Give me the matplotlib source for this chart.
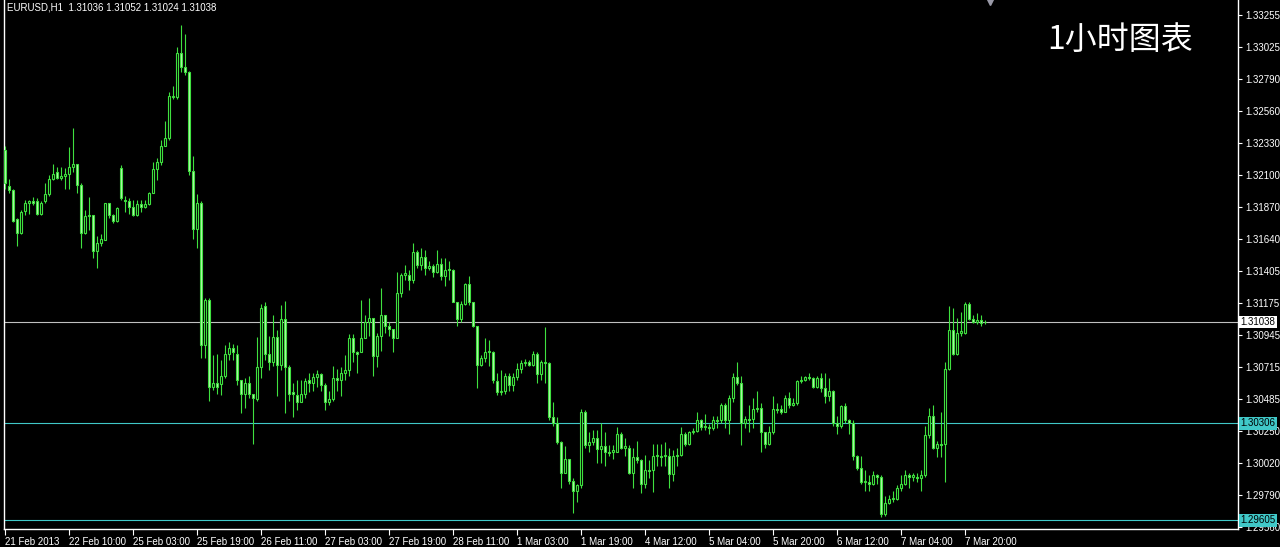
import matplotlib
matplotlib.use("Agg")
import matplotlib.pyplot as plt
import numpy as np

# EURUSD H1 candles, 21 Feb 2013 18:00 -> 7 Mar 2013
opens = [1.3228, 1.3202, 1.3199, 1.3178, 1.3168, 1.3184, 1.3190, 1.3191, 1.3191, 1.3182,
         1.3191, 1.3196, 1.3207, 1.3212, 1.3208, 1.3209, 1.3211, 1.3216, 1.3218, 1.3203,
         1.3168, 1.3180, 1.3181, 1.3155, 1.3161, 1.3163, 1.3190, 1.3181, 1.3177, 1.3215,
         1.3192, 1.3191, 1.3187, 1.3181, 1.3189, 1.3187, 1.3189, 1.3197, 1.3214, 1.3219,
         1.3231, 1.3237, 1.3266, 1.3266, 1.3298, 1.3288, 1.3284, 1.3213, 1.3171, 1.3190,
         1.3087, 1.3120, 1.3057, 1.3060, 1.3059, 1.3065, 1.3081, 1.3085, 1.3081, 1.3062,
         1.3052, 1.3060, 1.3052, 1.3048, 1.3071, 1.3115, 1.3081, 1.3075, 1.3093, 1.3073,
         1.3106, 1.3071, 1.3053, 1.3051, 1.3046, 1.3052, 1.3062, 1.3060, 1.3064, 1.3066,
         1.3058, 1.3046, 1.3048, 1.3063, 1.3062, 1.3067, 1.3069, 1.3092, 1.3082, 1.3082,
         1.3092, 1.3104, 1.3107, 1.3079, 1.3094, 1.3109, 1.3101, 1.3099, 1.3092, 1.3125,
         1.3138, 1.3138, 1.3134, 1.3154, 1.3145, 1.3151, 1.3143, 1.3144, 1.3140, 1.3146,
         1.3137, 1.3141, 1.3141, 1.3118, 1.3106, 1.3117, 1.3131, 1.3118, 1.3101, 1.3073,
         1.3078, 1.3082, 1.3082, 1.3061, 1.3053, 1.3054, 1.3065, 1.3058, 1.3064, 1.3070,
         1.3074, 1.3075, 1.3073, 1.3081, 1.3066, 1.3075, 1.3074, 1.3035, 1.3031, 1.3017,
         1.2995, 1.3005, 1.2989, 1.2982, 1.2986, 1.3039, 1.3015, 1.3017, 1.3020, 1.3012,
         1.3014, 1.3010, 1.3010, 1.3010, 1.3023, 1.3013, 1.3013, 1.2995, 1.3006, 1.3004,
         1.2987, 1.2997, 1.2997, 1.3007, 1.3007, 1.3007, 1.3007, 1.2994, 1.3007, 1.3008,
         1.3023, 1.3016, 1.3024, 1.3025, 1.3033, 1.3028, 1.3028, 1.3027, 1.3033, 1.3033,
         1.3044, 1.3033, 1.3049, 1.3064, 1.3060, 1.3031, 1.3034, 1.3034, 1.3041, 1.3042,
         1.3024, 1.3016, 1.3024, 1.3041, 1.3041, 1.3039, 1.3049, 1.3044, 1.3045, 1.3061,
         1.3062, 1.3064, 1.3063, 1.3057, 1.3063, 1.3056, 1.3050, 1.3054, 1.3031, 1.3029,
         1.3043, 1.3033, 1.3031, 1.3007, 1.2998, 1.2988, 1.2988, 1.2987, 1.2993, 1.2992,
         1.2965, 1.2973, 1.2976, 1.2976, 1.2984, 1.2987, 1.2993, 1.2992, 1.2992, 1.2991,
         1.2993, 1.3022, 1.3036, 1.3013, 1.3016, 1.3016, 1.3070, 1.3098, 1.3081, 1.3096,
         1.3096, 1.3117, 1.3106, 1.3104, 1.3105, 1.31036]

highs = [1.3231, 1.3207, 1.3200, 1.3179, 1.3185, 1.3192, 1.3192, 1.3194, 1.3193, 1.3191,
         1.3204, 1.3210, 1.3218, 1.3216, 1.3216, 1.3215, 1.3230, 1.3244, 1.3218, 1.3204,
         1.3185, 1.3194, 1.3181, 1.3166, 1.3167, 1.3190, 1.3190, 1.3182, 1.3187, 1.3217,
         1.3195, 1.3193, 1.3192, 1.3192, 1.3192, 1.3192, 1.3198, 1.3219, 1.3222, 1.3235,
         1.3249, 1.3270, 1.3274, 1.3302, 1.3318, 1.3312, 1.3285, 1.3224, 1.3196, 1.3191,
         1.3121, 1.3121, 1.3080, 1.3081, 1.3076, 1.3087, 1.3089, 1.3088, 1.3087, 1.3062,
         1.3063, 1.3065, 1.3052, 1.3093, 1.3117, 1.3118, 1.3094, 1.3109, 1.3098, 1.3116,
         1.3119, 1.3073, 1.3060, 1.3062, 1.3062, 1.3063, 1.3067, 1.3067, 1.3069, 1.3067,
         1.3060, 1.3054, 1.3072, 1.3070, 1.3071, 1.3080, 1.3095, 1.3095, 1.3083, 1.3120,
         1.3109, 1.3121, 1.3107, 1.3096, 1.3128, 1.3109, 1.3104, 1.3099, 1.3140, 1.3139,
         1.3145, 1.3141, 1.3161, 1.3156, 1.3157, 1.3156, 1.3148, 1.3146, 1.3156, 1.3150,
         1.3150, 1.3148, 1.3142, 1.3118, 1.3119, 1.3132, 1.3137, 1.3118, 1.3101, 1.3080,
         1.3092, 1.3091, 1.3083, 1.3067, 1.3069, 1.3067, 1.3067, 1.3067, 1.3074, 1.3076,
         1.3077, 1.3076, 1.3083, 1.3082, 1.3076, 1.3100, 1.3075, 1.3046, 1.3035, 1.3018,
         1.3014, 1.3005, 1.2991, 1.2987, 1.3041, 1.3040, 1.3024, 1.3026, 1.3026, 1.3031,
         1.3024, 1.3015, 1.3015, 1.3028, 1.3024, 1.3020, 1.3015, 1.3013, 1.3018, 1.3005,
         1.3008, 1.3004, 1.3016, 1.3016, 1.3016, 1.3017, 1.3013, 1.3011, 1.3013, 1.3028,
         1.3024, 1.3025, 1.3027, 1.3039, 1.3034, 1.3037, 1.3030, 1.3036, 1.3036, 1.3045,
         1.3045, 1.3051, 1.3067, 1.3075, 1.3065, 1.3036, 1.3044, 1.3049, 1.3054, 1.3045,
         1.3024, 1.3029, 1.3050, 1.3045, 1.3044, 1.3051, 1.3053, 1.3049, 1.3062, 1.3065,
         1.3065, 1.3067, 1.3064, 1.3065, 1.3067, 1.3067, 1.3063, 1.3055, 1.3036, 1.3044,
         1.3045, 1.3034, 1.3033, 1.3008, 1.3007, 1.2997, 1.2993, 1.2996, 1.2994, 1.2993,
         1.2978, 1.2979, 1.2982, 1.2986, 1.2993, 1.2997, 1.2995, 1.2995, 1.2995, 1.2997,
         1.3029, 1.3042, 1.3044, 1.3018, 1.3039, 1.3075, 1.3115, 1.3114, 1.3107, 1.3111,
         1.3118, 1.3118, 1.3109, 1.3110, 1.3109, 1.31052]

lows = [1.3200, 1.3197, 1.3176, 1.3159, 1.3167, 1.3181, 1.3182, 1.3188, 1.3181, 1.3181,
        1.3190, 1.3195, 1.3206, 1.3207, 1.3206, 1.3200, 1.3200, 1.3212, 1.3197, 1.3157,
        1.3167, 1.3170, 1.3150, 1.3143, 1.3159, 1.3163, 1.3179, 1.3175, 1.3176, 1.3192,
        1.3183, 1.3182, 1.3180, 1.3180, 1.3183, 1.3186, 1.3188, 1.3197, 1.3206, 1.3217,
        1.3233, 1.3235, 1.3265, 1.3265, 1.3284, 1.3282, 1.3210, 1.3164, 1.3157, 1.3078,
        1.3078, 1.3047, 1.3055, 1.3052, 1.3051, 1.3063, 1.3076, 1.3076, 1.3058, 1.3038,
        1.3042, 1.3049, 1.3016, 1.3047, 1.3063, 1.3076, 1.3069, 1.3072, 1.3050, 1.3069,
        1.3038, 1.3047, 1.3035, 1.3040, 1.3046, 1.3049, 1.3053, 1.3054, 1.3057, 1.3054,
        1.3040, 1.3044, 1.3047, 1.3054, 1.3050, 1.3062, 1.3065, 1.3075, 1.3067, 1.3082,
        1.3092, 1.3094, 1.3065, 1.3071, 1.3083, 1.3096, 1.3094, 1.3082, 1.3092, 1.3122,
        1.3134, 1.3127, 1.3132, 1.3143, 1.3141, 1.3138, 1.3141, 1.3136, 1.3139, 1.3134,
        1.3130, 1.3134, 1.3118, 1.3101, 1.3104, 1.3116, 1.3116, 1.3100, 1.3056, 1.3072,
        1.3075, 1.3072, 1.3060, 1.3051, 1.3051, 1.3052, 1.3054, 1.3054, 1.3062, 1.3067,
        1.3072, 1.3072, 1.3072, 1.3060, 1.3062, 1.3060, 1.3033, 1.3029, 1.3016, 1.2984,
        1.2995, 1.2987, 1.2966, 1.2974, 1.2984, 1.3013, 1.3010, 1.3015, 1.3002, 1.3002,
        1.3000, 1.3007, 1.3005, 1.3010, 1.3012, 1.3007, 1.2994, 1.2984, 1.3002, 1.2980,
        1.2984, 1.2991, 1.2981, 1.3000, 1.3000, 1.3000, 1.2984, 1.2989, 1.3000, 1.3007,
        1.3014, 1.3015, 1.3023, 1.3024, 1.3026, 1.3026, 1.3023, 1.3026, 1.3027, 1.3031,
        1.3027, 1.3023, 1.3046, 1.3058, 1.3015, 1.3027, 1.3024, 1.3027, 1.3039, 1.3010,
        1.3013, 1.3015, 1.3023, 1.3038, 1.3037, 1.3039, 1.3042, 1.3043, 1.3044, 1.3060,
        1.3061, 1.3062, 1.3056, 1.3056, 1.3053, 1.3045, 1.3047, 1.3029, 1.3023, 1.3027,
        1.3031, 1.3023, 1.3004, 1.2997, 1.2987, 1.2982, 1.2982, 1.2986, 1.2987, 1.2963,
        1.2964, 1.2972, 1.2974, 1.2975, 1.2982, 1.2986, 1.2984, 1.2989, 1.2988, 1.2982,
        1.2992, 1.3020, 1.3012, 1.3006, 1.3006, 1.2988, 1.3069, 1.3080, 1.3080, 1.3094,
        1.3095, 1.3105, 1.3103, 1.3102, 1.3101, 1.31024]

closes = [1.3204, 1.3199, 1.3177, 1.3168, 1.3183, 1.3190, 1.3191, 1.3190, 1.3182, 1.3190,
          1.3196, 1.3207, 1.3211, 1.3208, 1.3209, 1.3211, 1.3216, 1.3218, 1.3203, 1.3168,
          1.3180, 1.3181, 1.3155, 1.3161, 1.3164, 1.3190, 1.3181, 1.3177, 1.3186, 1.3193,
          1.3191, 1.3187, 1.3181, 1.3189, 1.3187, 1.3189, 1.3197, 1.3214, 1.3219, 1.3231,
          1.3237, 1.3267, 1.3267, 1.3298, 1.3288, 1.3284, 1.3213, 1.3171, 1.3190, 1.3087,
          1.3120, 1.3057, 1.3060, 1.3057, 1.3065, 1.3081, 1.3085, 1.3082, 1.3062, 1.3052,
          1.3060, 1.3052, 1.3049, 1.3071, 1.3114, 1.3081, 1.3075, 1.3093, 1.3073, 1.3106,
          1.3071, 1.3052, 1.3052, 1.3046, 1.3052, 1.3061, 1.3060, 1.3064, 1.3066, 1.3058,
          1.3046, 1.3048, 1.3063, 1.3062, 1.3067, 1.3069, 1.3092, 1.3082, 1.3081, 1.3092,
          1.3104, 1.3107, 1.3079, 1.3094, 1.3109, 1.3101, 1.3099, 1.3092, 1.3125, 1.3138,
          1.3139, 1.3134, 1.3154, 1.3145, 1.3151, 1.3143, 1.3144, 1.3140, 1.3146, 1.3137,
          1.3141, 1.3142, 1.3118, 1.3106, 1.3117, 1.3131, 1.3118, 1.3101, 1.3073, 1.3078,
          1.3082, 1.3083, 1.3062, 1.3053, 1.3054, 1.3065, 1.3058, 1.3064, 1.3070, 1.3074,
          1.3075, 1.3073, 1.3081, 1.3066, 1.3075, 1.3074, 1.3035, 1.3031, 1.3017, 1.2995,
          1.3005, 1.2989, 1.2982, 1.2986, 1.3039, 1.3015, 1.3017, 1.3020, 1.3012, 1.3014,
          1.3010, 1.3009, 1.3011, 1.3023, 1.3013, 1.3014, 1.2995, 1.3006, 1.3004, 1.2987,
          1.2997, 1.2996, 1.3007, 1.3008, 1.3006, 1.3008, 1.2994, 1.3007, 1.3008, 1.3023,
          1.3016, 1.3024, 1.3025, 1.3033, 1.3028, 1.3029, 1.3027, 1.3033, 1.3032, 1.3044,
          1.3033, 1.3049, 1.3064, 1.3060, 1.3031, 1.3034, 1.3033, 1.3041, 1.3042, 1.3024,
          1.3016, 1.3024, 1.3041, 1.3040, 1.3039, 1.3049, 1.3044, 1.3045, 1.3061, 1.3062,
          1.3064, 1.3063, 1.3057, 1.3063, 1.3056, 1.3050, 1.3054, 1.3031, 1.3029, 1.3043,
          1.3033, 1.3031, 1.3007, 1.2998, 1.2988, 1.2989, 1.2987, 1.2993, 1.2992, 1.2965,
          1.2973, 1.2976, 1.2977, 1.2984, 1.2987, 1.2993, 1.2992, 1.2993, 1.2991, 1.2993,
          1.3022, 1.3036, 1.3013, 1.3016, 1.3015, 1.3070, 1.3098, 1.3081, 1.3096, 1.3097,
          1.3117, 1.3106, 1.3104, 1.3105, 1.3103, 1.31038]

price_ticks = [1.33255, 1.33025, 1.32790, 1.32560, 1.32330, 1.32100, 1.31870, 1.31640, 1.31405,
               1.31175, 1.30945, 1.30715, 1.30485, 1.30250, 1.30020, 1.29790, 1.29560]
time_tick_bars = [0, 16, 32, 48, 64, 80, 96, 112, 128, 144, 160, 176, 192, 208, 224, 240]
time_labels = ['21 Feb 2013', '22 Feb 10:00', '25 Feb 03:00', '25 Feb 19:00', '26 Feb 11:00',
               '27 Feb 03:00', '27 Feb 19:00', '28 Feb 11:00', '1 Mar 03:00', '1 Mar 19:00',
               '4 Mar 12:00', '5 Mar 04:00', '5 Mar 20:00', '6 Mar 12:00', '7 Mar 04:00', '7 Mar 20:00']
level_lines = [1.30306, 1.29605]
bid = closes[-1]

green = '#3fe03f'
bear_fill = '#b8f5b0'
cyan = '#40c8c8'

o = np.array(opens)
h = np.array(highs)
l = np.array(lows)
c = np.array(closes)
n = len(c)
x = np.arange(n)
h = np.maximum(h, np.maximum(o, c))
l = np.minimum(l, np.minimum(o, c))

plt.rcParams['font.family'] = ['Liberation Sans', 'DejaVu Sans']

fig = plt.figure(figsize=(12.8, 5.47), dpi=100, facecolor='black')
ax = fig.add_axes([4 / 1280, 18 / 547, 1234 / 1280, 529 / 547])
ax.set_facecolor('black')
ax.set_xlim(-0.25, 308.25)
ax.set_ylim(1.29543, 1.33363)

# wicks and bodies
ax.vlines(x, l, h, color=green, lw=0.8, zorder=3)
up = c >= o
body_low = np.minimum(o, c)
body_h = np.maximum(np.abs(c - o), 0.00001)
faces = np.where(up, 'black', bear_fill)
ax.bar(x, body_h, bottom=body_low, width=0.45, color=faces, edgecolor=green,
       linewidth=0.8, zorder=4)

# bid line and horizontal levels
ax.axhline(bid, color='#c0c0c0', lw=0.8, zorder=2)
for lv in level_lines:
    ax.axhline(lv, color=cyan, lw=0.8, zorder=2)

for sp in ['left', 'right', 'bottom']:
    ax.spines[sp].set_color('white')
    ax.spines[sp].set_linewidth(1)
ax.spines['top'].set_visible(False)

ax.yaxis.tick_right()
ax.set_yticks(price_ticks)
ax.set_yticklabels(['%.5f' % p for p in price_ticks])
ax.tick_params(axis='y', colors='white', length=3, width=0.8, pad=2, labelsize=7)

ax.set_xticks(time_tick_bars)
ax.set_xticklabels(time_labels, ha='left')
ax.tick_params(axis='x', colors='white', length=4, width=0.8, pad=2, labelsize=7)

# price tags on the right scale
tags = [(bid, 'white')] + [(lv, cyan) for lv in level_lines]
for val, col in tags:
    ax.annotate('%.5f' % val, xy=(1, val), xycoords=ax.get_yaxis_transform(),
                xytext=(2, 0), textcoords='offset points', ha='left', va='center',
                fontsize=7, color='black', annotation_clip=False, zorder=10,
                bbox=dict(boxstyle='square,pad=0.15', fc=col, ec='none'))

# chart shift marker
ax.plot([n + 0.25], [1.0], marker='v', markersize=7, color='#9a9aa8',
        transform=ax.get_xaxis_transform(), clip_on=False, zorder=5)

fig.text(7 / 1280, 1 - 8 / 547,
         'EURUSD,H1  %.5f %.5f %.5f %.5f' % (opens[-1], highs[-1], lows[-1], closes[-1]),
         color='white', fontsize=7, va='center', ha='left')
fig.text(1120 / 1280, 1 - 40 / 547, '1小时图表', color='white', fontsize=23,
         ha='center', va='center', family=['Noto Sans CJK SC', 'DejaVu Sans'])

fig.savefig('out.png', dpi=100, facecolor='black')
